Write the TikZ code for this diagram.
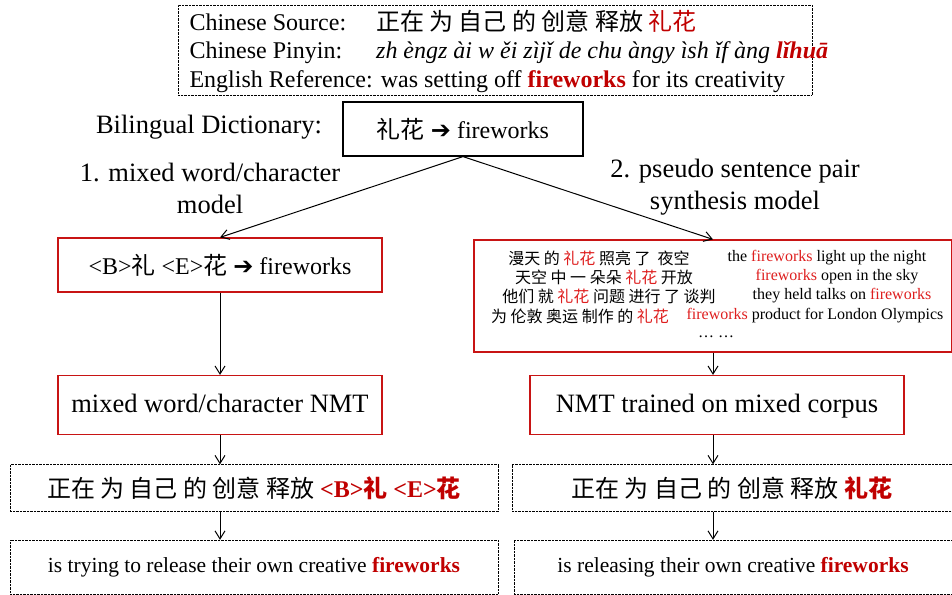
\documentclass[tikz,border=0pt]{standalone}
\usepackage{fontspec}
\usetikzlibrary{arrows.meta}
\setmainfont{Liberation Serif}
\newfontfamily\cjk{Noto Sans CJK SC}
\newfontfamily\symfont{DejaVu Sans}
\definecolor{darkred}{RGB}{192,0,0}
\definecolor{litered}{RGB}{222,30,30}
\definecolor{boxred}{RGB}{200,20,20}
\newcommand{\zh}[1]{{\cjk #1}}
\newcommand{\hl}[1]{\textcolor{darkred}{\textbf{#1}}}
\newcommand{\lt}[1]{\textcolor{litered}{#1}}
\newcommand{\rarr}{{\symfont\bfseries ➔}}
\begin{document}
\begin{tikzpicture}[x=1pt,y=-1pt,
  dot box/.style={draw,densely dotted,thin,inner sep=0pt},
  red box/.style={draw=boxred,line width=1.2pt,inner sep=0pt},
  dict box/.style={draw,line width=1.2pt,inner sep=0pt},
  top/.style={font=\fontsize{24}{28.5}\selectfont},
  label/.style={font=\fontsize{26.5}{32}\selectfont},
  big/.style={font=\fontsize{24}{28}\selectfont},
  mid/.style={font=\fontsize{21.5}{25}\selectfont},
  small/.style={font=\fontsize{16}{19.5}\selectfont},
  link/.style={-{Straight Barb[length=8pt,width=10pt]},line width=1pt}]
  \useasboundingbox (0,0) rectangle (952,594);

  % example sentence
  \node[dot box,minimum width=634pt,minimum height=90pt] (src) at (495,50) {};
  \node[top,anchor=west,align=left] (srctext) at (186,53) {%
    \begin{tabular}{@{}l@{\hspace{30pt}}l@{}}
    Chinese Source: & \zh{正在 为 自己 的 创意 释放 \textcolor{darkred}{礼花}}\\
    Chinese Pinyin: & \textit{zh èngz ài w ěi zìjǐ de chu àngy ìsh ǐf àng \hl{lǐhuā}}\\
    \multicolumn{2}{@{}l@{}}{English Reference: was setting off \hl{fireworks} for its creativity}
    \end{tabular}};

  % dictionary
  \node[label] (dictlabel) at (209,127) {Bilingual Dictionary:};
  \node[dict box,big,minimum width=240pt,minimum height=54pt] (dict) at (463,129) {\zh{礼花} \rarr\ fireworks};

  % the two models
  \node[label,align=center] (model1) at (210,188) {1. mixed word/character\\model};
  \node[label,align=center] (model2) at (735,187) {2. pseudo sentence pair\\synthesis model};

  \node[red box,big,minimum width=324pt,minimum height=54pt] (charbox) at (220,265) {<B>\zh{礼} <E>\zh{花} \rarr\ fireworks};
  \node[red box,minimum width=478pt,minimum height=112pt] (synbox) at (713,296) {};

  % synthesized pairs
  \node[small] (zh1) at (599,258) {\zh{漫天 的 \lt{礼花} 照亮 了 \ 夜空}};
  \node[small] (zh2) at (604,277) {\zh{天空 中 一 朵朵 \lt{礼花} 开放}};
  \node[small] (zh3) at (609,296) {\zh{他们 就 \lt{礼花} 问题 进行 了 谈判}};
  \node[small] (zh4) at (580,316) {\zh{为 伦敦 奥运 制作 的 \lt{礼花}}};
  \node[small] (en1) at (827,258) {the \lt{fireworks} light up the night};
  \node[small] (en2) at (837,277) {\lt{fireworks} open in the sky};
  \node[small] (en3) at (842,296) {they held talks on \lt{fireworks}};
  \node[small] (en4) at (815,316) {\lt{fireworks} product for London Olympics};
  \node[small] (more) at (716,337) {\dots\ \dots};

  \node[red box,label,minimum width=324pt,minimum height=59pt,text depth=3pt] (nmtL) at (220,405) {mixed word/character NMT};
  \node[red box,label,minimum width=374pt,minimum height=59pt,text depth=3pt] (nmtR) at (717,405) {NMT trained on mixed corpus};

  % outputs
  \node[dot box,big,minimum width=488pt,minimum height=47pt] (outL1) at (254,488) {\zh{正在 为 自己 的 创意 释放} \hl{<B>\zh{礼} <E>\zh{花}}};
  \node[dot box,big,minimum width=440pt,minimum height=47pt] (outR1) at (732,488) {\zh{正在 为 自己 的 创意 释放} \textcolor{darkred}{\zh{\bfseries 礼花}}};
  \node[dot box,mid,minimum width=488pt,minimum height=54pt] (outL2) at (254,567) {is trying to release their own creative \hl{fireworks}};
  \node[dot box,mid,minimum width=438pt,minimum height=54pt] (outR2) at (733,567) {is releasing their own creative \hl{fireworks}};

  \path (dict.south) edge[link] (charbox.north);
  \path (dict.south) edge[link] (synbox.north);
  \path (charbox.south) edge[link] (nmtL.north);
  \path (synbox.south) edge[link] (synbox.south |- nmtR.north);
  \path (nmtL.south) edge[link] (nmtL.south |- outL1.north);
  \path (synbox.south |- nmtR.south) edge[link] (synbox.south |- outR1.north);
  \path (outL1.south -| nmtL.south) edge[link] (nmtL.south |- outL2.north);
  \path (outR1.south -| synbox.south) edge[link] (synbox.south |- outR2.north);
\end{tikzpicture}
\end{document}
